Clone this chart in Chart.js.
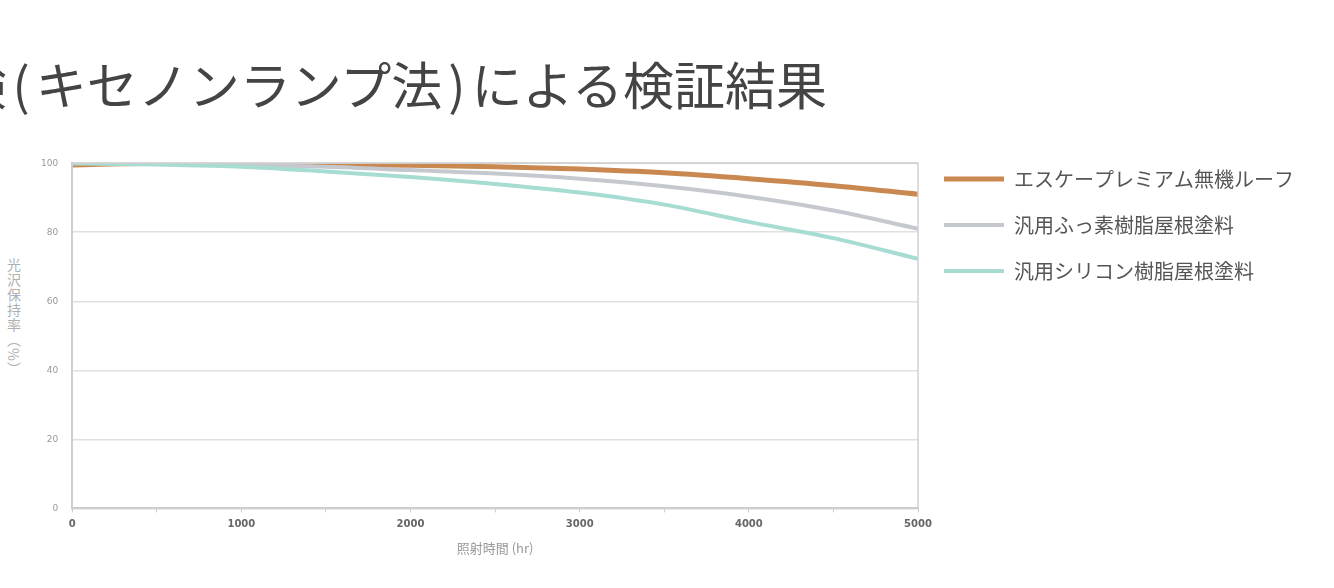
<!DOCTYPE html>
<html lang="ja">
<head>
<meta charset="utf-8">
<script src="https://cdn.jsdelivr.net/npm/chart.js@4.4.1/dist/chart.umd.min.js"></script>
<style>
  html, body { margin: 0; padding: 0; background: #fff; overflow: hidden; }
  body { width: 1334px; height: 588px; position: relative; font-family: "Noto Sans CJK JP", "Noto Sans", sans-serif; }
  #title {
    position: absolute; right: 507px; top: 58px; line-height: 1;
    font-size: 51px; color: #444; white-space: nowrap;
  }
  #title .p { padding: 0 6px; }
  #ytitle {
    position: absolute; left: 4px; top: 258px;
    writing-mode: vertical-rl; font-size: 14px; color: #b0b0b0; letter-spacing: 1px;
  }
  #wrap { position: absolute; left: 0; top: 0; width: 1334px; height: 588px; }
</style>
</head>
<body>
<div id="title">促進耐候性試験<span class="p">(</span>キセノンランプ法<span class="p">)</span>による検証結果</div>
<div id="ytitle">光沢保持率（%）</div>
<div id="wrap"><canvas id="chart"></canvas></div>
<script>
// irradiation time (hr)
const hours = [0, 500, 1000, 1500, 2000, 2500, 3000, 3500, 4000, 4500, 5000];
const seriesNames = ["エスケープレミアム無機ルーフ", "汎用ふっ素樹脂屋根塗料", "汎用シリコン樹脂屋根塗料"];
const premium = [99.5, 100, 100, 99.6, 99.4, 99, 98.3, 97.2, 95.5, 93.5, 91];
const fluoro = [100, 100, 99.5, 99, 98, 97, 95.5, 93.3, 90.3, 86.3, 81];
const silicone = [100, 99.6, 99, 97.6, 96, 94, 91.5, 88, 83, 78.3, 72.3];
const yTicks = [0, 20, 40, 60, 80, 100];
const xTitle = "照射時間 (hr)";

const colors = ["#c9884f", "#c6c8cf", "#a6dcd2"];
const cjk = "'Noto Sans CJK JP', sans-serif";

const frame = {
  id: "frame",
  afterDraw(chart) {
    const a = chart.chartArea, ctx = chart.ctx;
    ctx.save();
    ctx.strokeStyle = "#d0d0d0";
    ctx.lineWidth = 1.5;
    ctx.strokeRect(a.left, a.top, a.right - a.left, a.bottom - a.top);
    ctx.restore();
  }
};

function draw() {
  new Chart(document.getElementById("chart"), {
    type: "line",
    data: {
      datasets: [premium, fluoro, silicone].map((vals, i) => ({
        label: seriesNames[i],
        data: hours.map((h, j) => ({ x: h, y: vals[j] })),
        borderColor: colors[i],
        backgroundColor: colors[i],
        borderWidth: i === 0 ? 5 : 4,
        pointRadius: 0,
        cubicInterpolationMode: "monotone"
      })).reverse()
    },
    options: {
      responsive: true,
      maintainAspectRatio: false,
      animation: false,
      layout: { padding: { top: 143, left: 27, right: 30, bottom: 28 } },
      plugins: {
        // empty spacer above the plot only, so the legend can sit higher
        title: { display: true, text: "", fullSize: false, font: { size: 1 }, padding: { top: 19, bottom: 0 } },
        tooltip: { enabled: false },
        legend: {
          position: "right",
          align: "start",
          reverse: true,
          maxWidth: 420,
          labels: {
            usePointStyle: true,
            pointStyle: "line",
            pointStyleWidth: 60,
            boxHeight: 20,
            padding: 26,
            color: "#555",
            font: { size: 20, family: cjk }
          }
        }
      },
      scales: {
        x: {
          type: "linear",
          min: 0, max: 5000,
          ticks: {
            stepSize: 500,
            color: "#666",
            font: { size: 10, weight: "bold", family: "'DejaVu Sans', sans-serif" },
            maxRotation: 0,
            padding: 6,
            callback: v => (v % 1000 === 0 ? v : "")
          },
          grid: { drawOnChartArea: false, tickLength: 4, color: "#ccc" },
          border: { color: "#c8c8c8", width: 2 },
          title: { display: true, text: xTitle, color: "#999", font: { size: 13, family: cjk }, padding: { top: 4 } }
        },
        y: {
          min: 0, max: 100,
          afterBuildTicks: axis => { axis.ticks = yTicks.map(v => ({ value: v })); },
          ticks: {
            color: "#999",
            font: { size: 9, family: "'DejaVu Sans', sans-serif" },
            padding: 14
          },
          grid: { color: "#e0e0e0", lineWidth: 1.5, drawTicks: false },
          border: { color: "#c8c8c8", width: 2 }
        }
      }
    },
    plugins: [frame]
  });
}

document.fonts.load("20px 'Noto Sans CJK JP'", seriesNames.join("")).then(draw, draw);
</script>
</body>
</html>
